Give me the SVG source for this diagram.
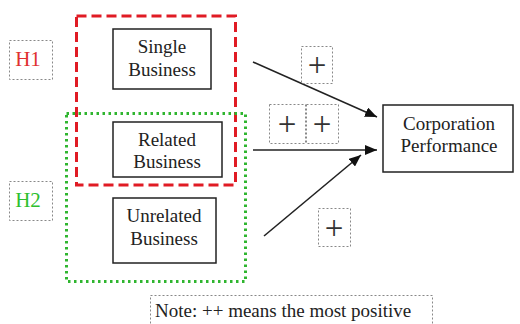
<svg xmlns="http://www.w3.org/2000/svg" width="520" height="324" viewBox="0 0 520 324">
<defs>
<style>
.node{fill:#fff;stroke:#222;stroke-width:1.5}
.t{font-family:'Liberation Serif','DejaVu Serif','Times New Roman',serif;font-size:19px;fill:#222;text-anchor:middle}
.hl{font-family:'Liberation Serif','DejaVu Serif','Times New Roman',serif;font-size:21px;text-anchor:middle}
.plus{font-family:'Liberation Serif','DejaVu Serif','Times New Roman',serif;font-size:33px;fill:#333;text-anchor:middle}
.note{font-family:'Liberation Serif','DejaVu Serif','Times New Roman',serif;font-size:19px;fill:#222}
.lbl{fill:none;stroke:#888;stroke-width:1;stroke-dasharray:2 2}
.conn{stroke:#222;stroke-width:1.6;fill:none;marker-end:url(#ah)}
</style>
<marker id="ah" viewBox="0 0 12 10" refX="12" refY="5" markerWidth="12" markerHeight="10" markerUnits="userSpaceOnUse" orient="auto">
<path d="M0,0 L12,5 L0,10 Z" fill="#111"/>
</marker>
</defs>
<rect width="520" height="324" fill="#fff"/>

<g id="h1-group">
<rect x="76.5" y="16" width="159" height="169" fill="none" stroke="#e01b24" stroke-width="3" stroke-dasharray="10 5"/>
</g>
<g id="h2-group">
<rect x="66.5" y="113.5" width="179" height="168" fill="none" stroke="#2fb52f" stroke-width="3" stroke-dasharray="2.5 3.5"/>
</g>

<g id="h1-label">
<rect class="lbl" x="9.5" y="40.5" width="43" height="39"/>
<text class="hl" x="28" y="66" fill="#e03030">H1</text>
</g>
<g id="h2-label">
<rect class="lbl" x="9.5" y="181.5" width="43" height="39"/>
<text class="hl" x="28" y="207" fill="#2fbf2f">H2</text>
</g>

<g id="single">
<rect class="node" x="113" y="29" width="98" height="60"/>
<text class="t" x="162" y="53">Single</text>
<text class="t" x="162" y="76">Business</text>
</g>
<g id="related">
<rect class="node" x="113" y="122" width="109" height="55"/>
<text class="t" x="167" y="146">Related</text>
<text class="t" x="167" y="168">Business</text>
</g>
<g id="unrelated">
<rect class="node" x="113" y="198" width="103" height="65"/>
<text class="t" x="164" y="222">Unrelated</text>
<text class="t" x="164" y="245">Business</text>
</g>
<g id="performance">
<rect class="node" x="383" y="105" width="130" height="67"/>
<text class="t" x="449" y="130">Corporation</text>
<text class="t" x="449" y="152">Performance</text>
</g>

<g id="connectors">
<line class="conn" x1="253" y1="62" x2="377" y2="117"/>
<line class="conn" x1="253" y1="150" x2="377" y2="150"/>
<line class="conn" x1="264" y1="236" x2="361" y2="155"/>
</g>

<g id="signs">
<rect class="lbl" x="301.5" y="46.5" width="31" height="37"/>
<text class="plus" x="317" y="76">+</text>
<rect class="lbl" x="269.5" y="104.5" width="36" height="39"/>
<text class="plus" x="287" y="135">+</text>
<rect class="lbl" x="306.5" y="104.5" width="32" height="39"/>
<text class="plus" x="322" y="135">+</text>
<rect class="lbl" x="318.5" y="208.5" width="32" height="38"/>
<text class="plus" x="334" y="239">+</text>
</g>

<g id="note">
<rect class="lbl" x="150.5" y="295.5" width="282" height="40"/>
<text class="note" x="155" y="317">Note: ++ means the most positive</text>
</g>
</svg>
